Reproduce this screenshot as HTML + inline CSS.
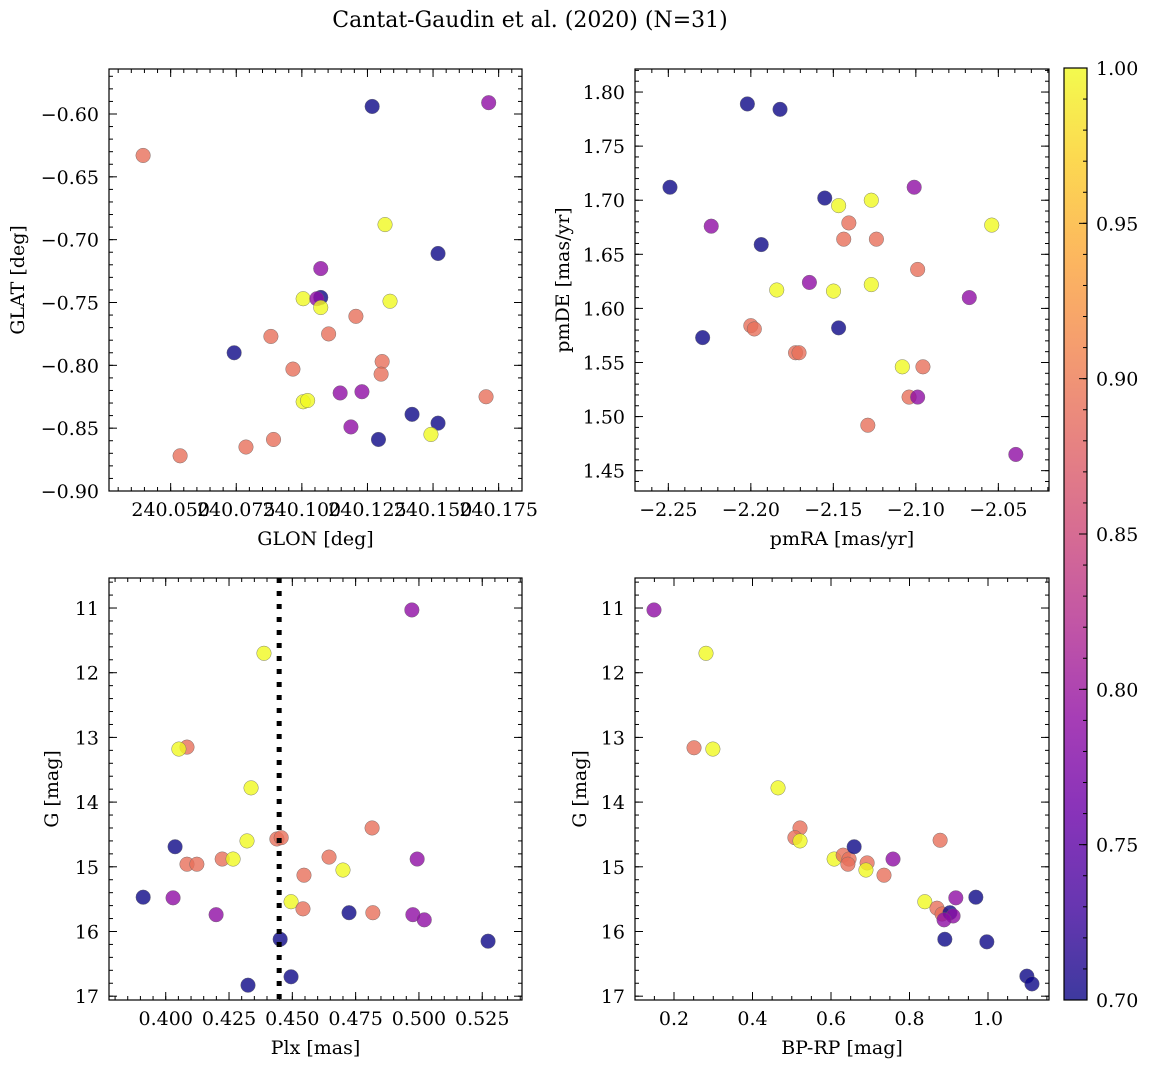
<!DOCTYPE html>
<html><head><meta charset="utf-8"><style>
html,body{margin:0;padding:0;background:#fff;}
svg{display:block;font-family:"DejaVu Serif","Liberation Serif",serif;}
</style></head><body>
<svg id="fig" width="1149" height="1068" viewBox="0 0 1149 1068" xmlns="http://www.w3.org/2000/svg">
<defs>
<linearGradient id="plasma" x1="0" y1="1" x2="0" y2="0">
<stop offset="0" stop-color="#0d0887"/><stop offset="0.1" stop-color="#41049d"/><stop offset="0.2" stop-color="#6a00a8"/><stop offset="0.3" stop-color="#8f0da4"/><stop offset="0.4" stop-color="#b12a90"/><stop offset="0.5" stop-color="#cc4778"/><stop offset="0.6" stop-color="#e16462"/><stop offset="0.7" stop-color="#f2844b"/><stop offset="0.8" stop-color="#fca636"/><stop offset="0.9" stop-color="#fcce25"/><stop offset="1" stop-color="#f0f921"/>
</linearGradient>
</defs>
<text x="530" y="27" font-size="22" text-anchor="middle">Cantat-Gaudin et al. (2020) (N=31)</text>
</svg>
<script>
const B=0.70,P=0.79,S=0.89,Y=1.0;
// Panel 1: GLON / GLAT
const p1x=[240.0395,240.1268,240.1712,240.1317,240.1519,240.1072,240.1005,240.1072,240.1057,240.1072,240.1336,240.1206,240.1102,240.0882,240.0742,240.1306,240.0966,240.1302,240.1229,240.1146,240.1702,240.1005,240.1022,240.1420,240.1519,240.1187,240.1492,240.1292,240.0892,240.0787,240.0536];
const p1y=[-0.633,-0.594,-0.591,-0.688,-0.711,-0.723,-0.747,-0.746,-0.747,-0.754,-0.749,-0.761,-0.775,-0.777,-0.790,-0.797,-0.803,-0.807,-0.821,-0.822,-0.825,-0.829,-0.828,-0.839,-0.846,-0.849,-0.855,-0.859,-0.859,-0.865,-0.872];
const p1c=[S,B,P,Y,B,P,Y,B,P,Y,Y,S,S,S,B,S,S,S,P,P,S,Y,Y,B,B,P,Y,B,S,S,S];
// Panel 2: pmRA / pmDE
const p2x=[-2.2021,-2.1823,-2.2490,-2.1010,-2.1552,-2.1270,-2.1468,-2.1406,-2.2240,-2.0540,-2.1437,-2.1239,-2.1937,-2.0989,-2.1645,-2.1270,-2.1843,-2.1499,-2.0676,-2.2000,-2.1979,-2.1468,-2.2292,-2.1729,-2.1708,-2.1082,-2.0957,-2.1041,-2.0989,-2.1291,-2.0394];
const p2y=[1.789,1.784,1.712,1.712,1.702,1.700,1.695,1.679,1.676,1.677,1.664,1.664,1.659,1.636,1.624,1.622,1.617,1.616,1.610,1.584,1.581,1.582,1.573,1.559,1.559,1.546,1.546,1.518,1.518,1.492,1.465];
const p2c=[B,B,B,P,B,Y,Y,S,P,Y,S,S,B,S,P,Y,Y,Y,P,S,S,B,B,S,S,Y,S,S,P,S,P];
// Panel 3: Plx / G
const p3x=[0.4972,0.4388,0.4084,0.4052,0.4337,0.5273,0.4815,0.4321,0.4439,0.4456,0.4037,0.4084,0.4123,0.4223,0.4266,0.4645,0.4700,0.4546,0.4993,0.3911,0.4029,0.4199,0.4495,0.4542,0.4724,0.4818,0.4976,0.5021,0.4452,0.4495,0.4325];
const p3y=[11.03,11.70,13.15,13.18,13.78,16.15,14.40,14.60,14.57,14.55,14.69,14.96,14.96,14.88,14.88,14.85,15.05,15.13,14.88,15.47,15.48,15.74,15.54,15.65,15.71,15.71,15.74,15.82,16.12,16.70,16.83];
const p3c=[P,Y,S,Y,Y,B,S,Y,S,S,B,S,S,S,Y,S,Y,S,P,B,P,P,Y,S,B,S,P,P,B,B,B];
const plxLine=0.4448;
// Panel 4: BP-RP / G
const p4x=[0.149,0.2815,0.251,0.299,0.465,0.521,0.508,0.521,0.608,0.631,0.646,0.643,0.659,0.692,0.689,0.735,0.758,0.878,0.839,0.870,0.883,0.903,0.911,0.888,0.918,0.969,0.890,0.997,1.099,1.112];
const p4y=[11.03,11.70,13.16,13.18,13.78,14.40,14.55,14.60,14.88,14.82,14.88,14.96,14.69,14.94,15.05,15.13,14.88,14.59,15.54,15.64,15.73,15.71,15.76,15.82,15.48,15.47,16.12,16.16,16.69,16.81];
const p4c=[P,Y,S,Y,Y,S,S,Y,Y,S,S,S,B,S,Y,S,P,S,Y,S,S,B,P,P,P,B,B,B,B,B];
// Tick labels
const t1x=["240.050","240.075","240.100","240.125","240.150","240.175"];
const t1y=["-0.90","-0.85","-0.80","-0.75","-0.70","-0.65","-0.60"];
const t2x=["-2.25","-2.20","-2.15","-2.10","-2.05"];
const t2y=["1.45","1.50","1.55","1.60","1.65","1.70","1.75","1.80"];
const t3x=["0.400","0.425","0.450","0.475","0.500","0.525"];
const tGy=["11","12","13","14","15","16","17"];
const t4x=["0.2","0.4","0.6","0.8","1.0"];
const tcb=["0.70","0.75","0.80","0.85","0.90","0.95","1.00"];

const NS="http://www.w3.org/2000/svg";
const svg=document.getElementById('fig');
const FS=19;
const stops=[[0,13,8,135],[0.1,65,4,157],[0.2,106,0,168],[0.3,143,13,164],[0.4,177,42,144],[0.5,204,71,120],[0.6,225,100,98],[0.7,242,132,75],[0.8,252,166,54],[0.9,252,206,37],[1,240,249,33]];
function plasma(t){t=Math.max(0,Math.min(1,t));for(let i=1;i<stops.length;i++){if(t<=stops[i][0]){const a=stops[i-1],b=stops[i],f=(t-a[0])/(b[0]-a[0]);return 'rgb('+[1,2,3].map(k=>Math.round(a[k]+(b[k]-a[k])*f)).join(',')+')';}}return 'rgb(240,249,33)';}
function mk(tag,attrs,parent){const e=document.createElementNS(NS,tag);for(const k in attrs)e.setAttribute(k,attrs[k]);(parent||svg).appendChild(e);return e;}
function unminus(s){return s.replace('-','\u2212');}

function panel(o){
  const g=mk('g',{});
  
  
  const sx=v=>o.L+(v-o.x0)/(o.x1-o.x0)*(o.R-o.L);
  const sy=v=>o.B-(v-o.y0)/(o.y1-o.y0)*(o.B-o.T);
  const pg=mk('g',{},g);
  
  
  for(let i=0;i<o.xs.length;i++){
    const c=mk('circle',{cx:sx(o.xs[i]),cy:sy(o.ys[i]),r:7.3,fill:plasma((o.cs[i]-0.7)/0.3),'fill-opacity':0.8,stroke:'#666','stroke-width':0.5,'stroke-opacity':0.8},pg);
    
    
  }
  if(o.vline!==undefined){
    const l=mk('line',{x1:sx(o.vline),x2:sx(o.vline),y1:o.T,y2:o.B,stroke:'#000','stroke-width':5,'stroke-dasharray':'5,8'},g);
    
    
  }
  const fr=mk('rect',{x:o.L,y:o.T,width:o.R-o.L,height:o.B-o.T,fill:'none',stroke:'#000','stroke-width':1.2},g);
  
  
  const tk=mk('g',{stroke:'#000','stroke-width':1},g);
  const xmin=Math.min(o.x0,o.x1),xmax=Math.max(o.x0,o.x1);
  for(let v=Math.ceil(xmin/o.xm-1e-6)*o.xm;v<=xmax+1e-9;v+=o.xm){const x=sx(v);if(x<o.L+0.5||x>o.R-0.5)continue;mk('line',{x1:x,x2:x,y1:o.B,y2:o.B-4},tk);mk('line',{x1:x,x2:x,y1:o.T,y2:o.T+4},tk);}
  const ymin=Math.min(o.y0,o.y1),ymax=Math.max(o.y0,o.y1);
  for(let v=Math.ceil(ymin/o.ym-1e-6)*o.ym;v<=ymax+1e-9;v+=o.ym){const y=sy(v);if(y<o.T+0.5||y>o.B-0.5)continue;mk('line',{x1:o.L,x2:o.L+4,y1:y,y2:y},tk);mk('line',{x1:o.R,x2:o.R-4,y1:y,y2:y},tk);}
  o.xt.forEach(s=>{const x=sx(parseFloat(s));mk('line',{x1:x,x2:x,y1:o.B,y2:o.B-8},tk);mk('line',{x1:x,x2:x,y1:o.T,y2:o.T+8},tk);
    const t=mk('text',{x:x,y:o.B+25,'font-size':FS,'text-anchor':'middle'},g);t.textContent=unminus(s);
    
    });
  o.yt.forEach(s=>{const y=sy(parseFloat(s));mk('line',{x1:o.L,x2:o.L+8,y1:y,y2:y},tk);mk('line',{x1:o.R,x2:o.R-8,y1:y,y2:y},tk);
    const t=mk('text',{x:o.L-10,y:y+7,'font-size':FS,'text-anchor':'end'},g);t.textContent=unminus(s);
    
    });
  const xl=mk('text',{x:(o.L+o.R)/2,y:o.B+54,'font-size':FS,'text-anchor':'middle'},g);xl.textContent=o.xlab;
  
  
  const yx=o.ylx,yy=(o.T+o.B)/2;
  const yl=mk('text',{x:yx,y:yy,'font-size':FS,'text-anchor':'middle',transform:'rotate(-90 '+yx+' '+yy+')'},g);yl.textContent=o.ylab;
  
  
}
panel({name:'glon-glat-panel',L:109,R:522,T:69,B:491,x0:240.0265,x1:240.1839,y0:-0.90,y1:-0.5642,xm:0.005,ym:0.01,xs:p1x,ys:p1y,cs:p1c,xt:t1x,yt:t1y,xlab:'GLON [deg]',ylab:'GLAT [deg]',ylx:24});
panel({name:'pm-panel',L:635,R:1049,T:69,B:491,x0:-2.2702,x1:-2.0193,y0:1.4312,y1:1.8213,xm:0.01,ym:0.01,xs:p2x,ys:p2y,cs:p2c,xt:t2x,yt:t2y,xlab:'pmRA [mas/yr]',ylab:'pmDE [mas/yr]',ylx:569});
panel({name:'plx-g-panel',L:109,R:522,T:578,B:1000,x0:0.3776,x1:0.5407,y0:17.059,y1:10.536,xm:0.005,ym:0.2,xs:p3x,ys:p3y,cs:p3c,xt:t3x,yt:tGy,xlab:'Plx [mas]',ylab:'G [mag]',ylx:58,vline:plxLine});
panel({name:'cmd-panel',L:635,R:1049,T:578,B:1000,x0:0.1006,x1:1.1554,y0:17.059,y1:10.536,xm:0.05,ym:0.2,xs:p4x,ys:p4y,cs:p4c,xt:t4x,yt:tGy,xlab:'BP-RP [mag]',ylab:'G [mag]',ylx:586});
(function(){
  const g=mk('g',{});
  
  
  const T=68,Bt=1000,L=1064,R=1087;
  mk('rect',{x:L,y:T,width:R-L,height:Bt-T,fill:'url(#plasma)','fill-opacity':0.8},g);
  mk('rect',{x:L,y:T,width:R-L,height:Bt-T,fill:'none',stroke:'#000','stroke-width':1.2},g);
  const sy=v=>Bt-(v-0.7)/0.3*(Bt-T);
  for(let v=0.70;v<=1.0001;v+=0.01){mk('line',{x1:R,x2:R-4,y1:sy(v),y2:sy(v),stroke:'#000'},g);}
  tcb.forEach(s=>{const y=sy(parseFloat(s));mk('line',{x1:R,x2:R-8,y1:y,y2:y,stroke:'#000'},g);
    const t=mk('text',{x:R+9,y:y+7,'font-size':FS},g);t.textContent=s;
    
    });
})();
</script>
</body></html>
